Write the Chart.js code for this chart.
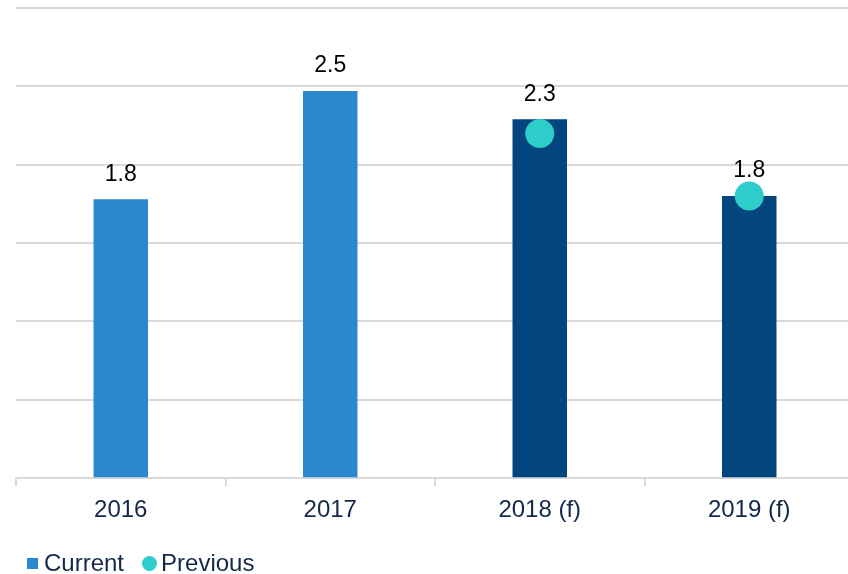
<!DOCTYPE html>
<html>
<head>
<meta charset="utf-8">
<script src="https://cdn.jsdelivr.net/npm/chart.js@4"></script>
<style>
  html, body { margin: 0; padding: 0; background: #fff; overflow: hidden; }
  #wrap { position: relative; width: 856px; height: 574px; }
  #legend {
    position: absolute; left: 27px; top: 549px; height: 28px;
    display: flex; align-items: center;
    font: 24px "Liberation Sans", Arial, sans-serif; color: #14284B;
  }
  #legend .sq { width: 11px; height: 11px; background: #2B87CE; margin-right: 6px; }
  #legend .dot { width: 15px; height: 15px; border-radius: 50%; background: #2ECCCB; margin: 0 4px 0 18px; }
</style>
</head>
<body>
<div id="wrap">
  <canvas id="chart" width="856" height="574"></canvas>
  <div id="legend"><span class="sq"></span><span>Current</span><span class="dot"></span><span>Previous</span></div>
</div>
<script>
// values
const years = ['2016', '2017', '2018 (f)', '2019 (f)'];
const current = [1.78, 2.47, 2.29, 1.8];
const previous = [null, null, 2.2, 1.8];
const barColors = ['#2B87CE', '#2B87CE', '#02457F', '#02457F'];

const FONT = '"Liberation Sans", Arial, sans-serif';

// value labels above the bars
const barLabels = {
  id: 'barLabels',
  afterDatasetsDraw(chart) {
    const ctx = chart.ctx;
    const meta = chart.getDatasetMeta(0);
    ctx.save();
    ctx.font = '23px ' + FONT;
    ctx.fillStyle = '#000';
    ctx.textAlign = 'center';
    ctx.textBaseline = 'middle';
    meta.data.forEach((bar, i) => {
      ctx.fillText(current[i].toFixed(1), bar.x, bar.y - 25);
    });
    ctx.restore();
  }
};

new Chart(document.getElementById('chart'), {
  type: 'bar',
  data: {
    labels: years,
    datasets: [{
      label: 'Current',
      data: current,
      backgroundColor: barColors,
      barPercentage: 0.26,
      categoryPercentage: 1,
      order: 2
    }, {
      type: 'line',
      label: 'Previous',
      data: previous,
      showLine: false,
      pointStyle: 'circle',
      pointRadius: 14.5,
      pointHoverRadius: 14.5,
      pointBorderWidth: 0,
      backgroundColor: '#2ECCCB',
      borderColor: '#2ECCCB',
      order: 1
    }]
  },
  options: {
    responsive: false,
    animation: false,
    layout: { autoPadding: false, padding: { left: 16, right: 2, top: 8, bottom: 39 } },
    plugins: {
      tooltip: { enabled: false },
      legend: { display: false }
    },
    scales: {
      x: {
        grid: {
          drawOnChartArea: false,
          color: '#D9D9D9',
          lineWidth: 2,
          tickLength: 8
        },
        border: { color: '#D9D9D9', width: 2 },
        ticks: {
          color: '#14284B',
          padding: 10,
          font: { family: FONT, size: 24 }
        }
      },
      y: {
        min: 0,
        max: 3,
        ticks: { display: false, stepSize: 0.5 },
        grid: { color: '#D9D9D9', lineWidth: 2, drawTicks: false },
        border: { display: false }
      }
    }
  },
  plugins: [barLabels]
});
</script>
</body>
</html>
